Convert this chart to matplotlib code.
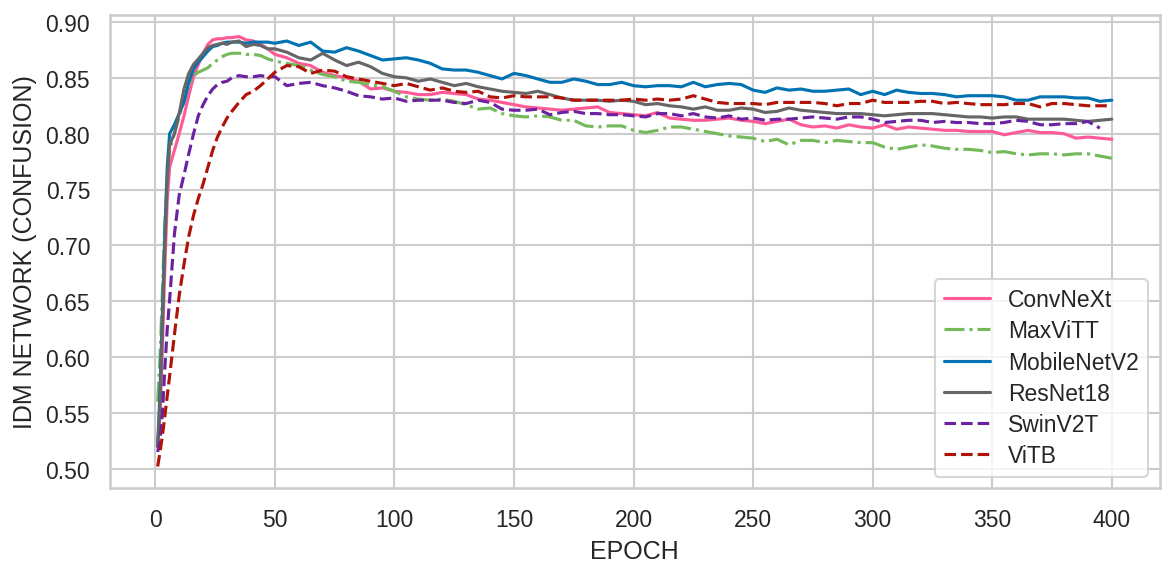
import numpy as np
import matplotlib
matplotlib.use("Agg")
import matplotlib.pyplot as plt
import seaborn as sns

# epochs sampled from the curves (dense early, every 5 epochs afterwards)
epochs = [1, 2, 3, 4, 5, 6, 8, 10, 12, 14, 16, 18, 20, 22, 24, 26, 28, 30, 32, 35, 38, 41, 44, 47, 50] + list(range(55, 405, 5))

convnext = [0.52, 0.55, 0.61, 0.68, 0.74, 0.77, 0.785, 0.800, 0.816, 0.834, 0.851, 0.862, 0.872, 0.880, 0.884, 0.885, 0.885, 0.886, 0.886, 0.887, 0.884, 0.883, 0.880, 0.876, 0.871,
            0.868, 0.863, 0.861, 0.855, 0.852, 0.850, 0.847, 0.840, 0.841, 0.838, 0.837, 0.835, 0.835, 0.837, 0.836, 0.835, 0.831, 0.830, 0.828, 0.826,
            0.824, 0.823, 0.822, 0.821, 0.822, 0.823, 0.824, 0.819, 0.818, 0.817, 0.816, 0.819, 0.814, 0.813, 0.812, 0.812, 0.813, 0.814, 0.812, 0.811,
            0.809, 0.811, 0.813, 0.808, 0.806, 0.807, 0.805, 0.808, 0.806, 0.805, 0.808, 0.804, 0.806, 0.805, 0.804, 0.803, 0.803, 0.802, 0.802, 0.802,
            0.799, 0.801, 0.803, 0.801, 0.801, 0.800, 0.796, 0.797, 0.796, 0.795]

maxvitt = [0.56, 0.60, 0.66, 0.72, 0.76, 0.785, 0.800, 0.815, 0.830, 0.843, 0.852, 0.855, 0.857, 0.859, 0.863, 0.866, 0.869, 0.871, 0.872, 0.872, 0.871, 0.871, 0.870, 0.867, 0.865,
           0.863, 0.861, 0.857, 0.853, 0.851, 0.847, 0.846, 0.844, 0.842, 0.838, 0.833, 0.831, 0.830, 0.831, 0.829, 0.826, 0.822, 0.823, 0.818, 0.816,
           0.815, 0.816, 0.815, 0.812, 0.812, 0.807, 0.806, 0.807, 0.807, 0.803, 0.801, 0.803, 0.806, 0.806, 0.804, 0.802, 0.800, 0.798, 0.797, 0.796,
           0.793, 0.795, 0.790, 0.794, 0.794, 0.792, 0.794, 0.793, 0.792, 0.792, 0.788, 0.786, 0.788, 0.790, 0.789, 0.787, 0.786, 0.786, 0.785, 0.783,
           0.784, 0.782, 0.781, 0.782, 0.782, 0.781, 0.782, 0.782, 0.780, 0.778]

mobilenetv2 = [0.52, 0.57, 0.64, 0.71, 0.77, 0.800, 0.808, 0.818, 0.828, 0.846, 0.858, 0.864, 0.869, 0.874, 0.878, 0.879, 0.881, 0.882, 0.882, 0.882, 0.881, 0.882, 0.882, 0.882, 0.881,
               0.883, 0.879, 0.882, 0.874, 0.873, 0.877, 0.874, 0.870, 0.866, 0.867, 0.868, 0.866, 0.863, 0.858, 0.857, 0.857, 0.855, 0.852, 0.849, 0.854,
               0.852, 0.849, 0.846, 0.846, 0.849, 0.847, 0.844, 0.844, 0.846, 0.843, 0.842, 0.843, 0.843, 0.842, 0.846, 0.842, 0.844, 0.845, 0.844, 0.839,
               0.837, 0.841, 0.839, 0.840, 0.838, 0.838, 0.839, 0.840, 0.835, 0.838, 0.835, 0.839, 0.837, 0.836, 0.836, 0.835, 0.833, 0.834, 0.834, 0.834,
               0.833, 0.830, 0.830, 0.833, 0.833, 0.833, 0.832, 0.832, 0.829, 0.830]

resnet18 = [0.52, 0.56, 0.63, 0.70, 0.76, 0.790, 0.800, 0.818, 0.840, 0.854, 0.862, 0.867, 0.872, 0.877, 0.879, 0.880, 0.881, 0.880, 0.882, 0.883, 0.878, 0.880, 0.879, 0.876, 0.876,
            0.873, 0.868, 0.866, 0.872, 0.866, 0.861, 0.864, 0.860, 0.854, 0.851, 0.850, 0.847, 0.849, 0.846, 0.843, 0.845, 0.842, 0.840, 0.838, 0.837,
            0.836, 0.838, 0.835, 0.832, 0.830, 0.830, 0.830, 0.829, 0.830, 0.829, 0.826, 0.827, 0.825, 0.824, 0.822, 0.824, 0.821, 0.821, 0.823, 0.822,
            0.819, 0.820, 0.823, 0.821, 0.820, 0.819, 0.818, 0.818, 0.818, 0.817, 0.816, 0.817, 0.818, 0.818, 0.818, 0.817, 0.816, 0.815, 0.815, 0.814,
            0.815, 0.815, 0.813, 0.813, 0.813, 0.813, 0.812, 0.811, 0.812, 0.813]

# SwinV2T stops at epoch 395
swinv2t = [0.515, 0.525, 0.55, 0.59, 0.625, 0.651, 0.710, 0.745, 0.763, 0.782, 0.800, 0.816, 0.826, 0.834, 0.840, 0.844, 0.846, 0.847, 0.850, 0.852, 0.851, 0.851, 0.852, 0.851, 0.851,
           0.843, 0.845, 0.846, 0.843, 0.841, 0.838, 0.834, 0.833, 0.831, 0.832, 0.829, 0.830, 0.830, 0.830, 0.828, 0.827, 0.830, 0.828, 0.822, 0.821,
           0.821, 0.822, 0.817, 0.819, 0.820, 0.818, 0.818, 0.817, 0.817, 0.816, 0.815, 0.818, 0.818, 0.816, 0.818, 0.815, 0.814, 0.816, 0.813, 0.814,
           0.812, 0.813, 0.813, 0.814, 0.815, 0.814, 0.813, 0.815, 0.815, 0.813, 0.810, 0.811, 0.812, 0.812, 0.810, 0.811, 0.810, 0.810, 0.809, 0.809,
           0.810, 0.812, 0.811, 0.808, 0.808, 0.809, 0.809, 0.811, 0.805]

vitb = [0.502, 0.515, 0.53, 0.547, 0.565, 0.583, 0.620, 0.655, 0.683, 0.708, 0.727, 0.742, 0.755, 0.770, 0.785, 0.797, 0.806, 0.814, 0.820, 0.828, 0.835, 0.838, 0.843, 0.849, 0.855,
        0.861, 0.860, 0.854, 0.857, 0.856, 0.851, 0.849, 0.847, 0.845, 0.843, 0.845, 0.842, 0.839, 0.841, 0.838, 0.837, 0.838, 0.833, 0.832, 0.834,
        0.833, 0.833, 0.833, 0.832, 0.830, 0.830, 0.830, 0.830, 0.830, 0.831, 0.830, 0.831, 0.830, 0.831, 0.834, 0.831, 0.828, 0.827, 0.827, 0.827,
        0.826, 0.828, 0.828, 0.828, 0.828, 0.827, 0.825, 0.827, 0.827, 0.830, 0.828, 0.828, 0.828, 0.829, 0.829, 0.827, 0.828, 0.827, 0.826, 0.826,
        0.826, 0.827, 0.827, 0.824, 0.827, 0.827, 0.826, 0.825, 0.825, 0.825]

models = ["ConvNeXt", "MaxViTT", "MobileNetV2", "ResNet18", "SwinV2T", "ViTB"]
series = [convnext, maxvitt, mobilenetv2, resnet18, swinv2t, vitb]
colors = ["#ff5a98", "#74b95a", "#0173b2", "#666666", "#6a22a0", "#b01208"]
styles = ["-", "-.", "-", "-", "--", "--"]

sns.set_theme(style="whitegrid")
plt.rcParams["font.family"] = ["Liberation Sans", "DejaVu Sans"]

fig = plt.figure(figsize=(7.84, 3.833), dpi=150)
ax = fig.add_axes([0.0935, 0.1496, 0.8925, 0.8226])

for name, vals, c, ls in zip(models, series, colors, styles):
    ax.plot(epochs[:len(vals)], vals, color=c, linestyle=ls, linewidth=1.5, label=name)

ax.set_xticks(np.arange(0, 401, 50))
ax.set_xlabel("EPOCH", fontsize=12)
ax.set_ylabel("IDM NETWORK (CONFUSION)", fontsize=12)
ax.tick_params(labelsize=11)
ax.legend(loc="lower right", fontsize=11, labelspacing=0.36)

fig.savefig("out.png", dpi=150)
